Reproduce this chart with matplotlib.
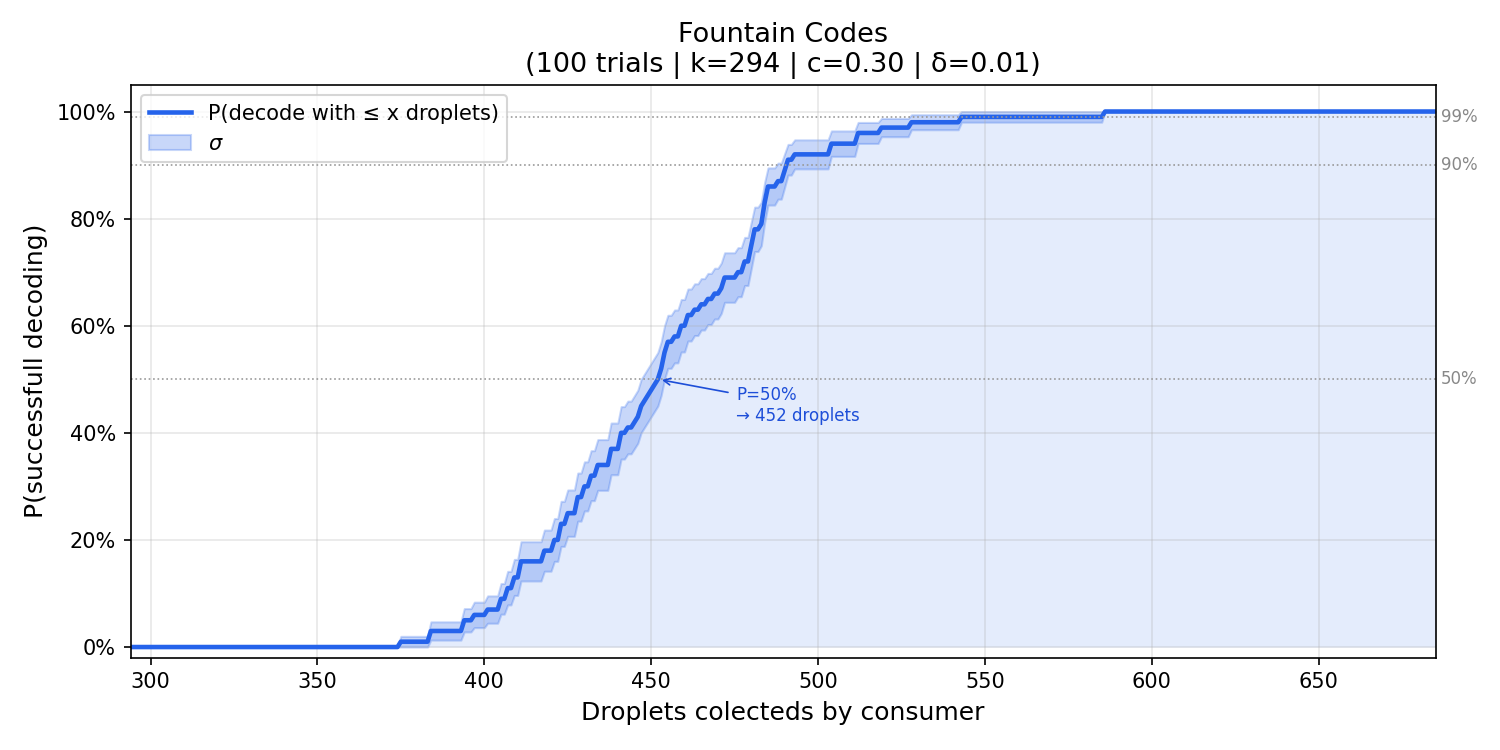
import numpy as np
import matplotlib
matplotlib.use("Agg")
import matplotlib.pyplot as plt
from matplotlib.ticker import PercentFormatter

# Settings of the experiment
N_TRIALS = 100
K = 294
C = 0.30
DELTA = 0.01
X_MAX = 685

# Droplet counts where the cumulative success level (in %) steps up
step_droplets = [375, 384, 394, 397, 401, 405, 407, 409, 411, 418, 421, 423,
                 425, 428, 430, 432, 434, 438, 441, 443, 445, 446, 447, 448,
                 449, 450, 451, 452, 453, 454, 455, 457, 459, 461, 463, 465,
                 467, 469, 471, 472, 476, 478, 480, 481, 483, 484, 485, 488,
                 490, 491, 493, 504, 512, 519, 528, 543, 586]
step_levels = [1, 3, 5, 6, 7, 9, 11, 13, 16, 18, 20, 23,
               25, 28, 30, 32, 34, 37, 40, 41, 42, 43, 45, 46,
               47, 48, 49, 50, 52, 55, 57, 58, 60, 62, 63, 64,
               65, 66, 67, 69, 70, 72, 75, 78, 79, 83, 86, 87,
               89, 91, 92, 94, 96, 97, 98, 99, 100]

ref_levels = [0.50, 0.90, 0.99]
ref_labels = ["50%", "90%", "99%"]

BLUE = "#2563eb"
ANNOT = "#1d4ed8"


def main():
    # droplets needed per trial -> empirical CDF
    counts = np.diff([0] + step_levels)
    needed = np.sort(np.repeat(step_droplets, counts))
    x = np.arange(K, X_MAX + 1)
    p = np.searchsorted(needed, x, side="right") / N_TRIALS
    sigma = np.sqrt(p * (1 - p) / N_TRIALS)

    fig, ax = plt.subplots(figsize=(10, 5), dpi=150)
    fig.subplots_adjust(left=0.087, right=0.957, top=0.887, bottom=0.123)

    ax.fill_between(x, 0, p, color=BLUE, alpha=0.12, linewidth=0)
    band = ax.fill_between(x, p - sigma, p + sigma, color=BLUE, alpha=0.25,
                           linewidth=1, label=r"$\sigma$")
    line, = ax.plot(x, p, color=BLUE, lw=2.2, label="P(decode with ≤ x droplets)")

    for lvl, lab in zip(ref_levels, ref_labels):
        ax.axhline(lvl, color="#999999", ls=":", lw=0.8)
        ax.text(1.004, lvl, lab, transform=ax.get_yaxis_transform(),
                color="#888888", fontsize=8, va="center", ha="left")

    x50 = needed[int(0.5 * N_TRIALS) - 1]
    ax.annotate(f"P=50%\n→ {x50} droplets", xy=(x50, 0.5),
                xytext=(475.5, 0.451), color=ANNOT, fontsize=8,
                va="center", ha="left",
                arrowprops=dict(arrowstyle="->", color=ANNOT, lw=0.8))

    ax.set_xlim(K, X_MAX)
    ax.set_ylim(-0.02, 1.05)
    ax.yaxis.set_major_formatter(PercentFormatter(1.0, decimals=0))
    ax.grid(alpha=0.3)
    ax.set_title(f"Fountain Codes\n({N_TRIALS} trials | k={K} | c={C:.2f} | δ={DELTA:.2f})",
                 fontsize=13)
    ax.set_xlabel("Droplets colecteds by consumer", fontsize=12)
    ax.set_ylabel("P(successfull decoding)", fontsize=12)
    ax.legend(handles=[line, band], loc="upper left", fontsize=10)

    fig.savefig("out.png")


if __name__ == "__main__":
    main()
